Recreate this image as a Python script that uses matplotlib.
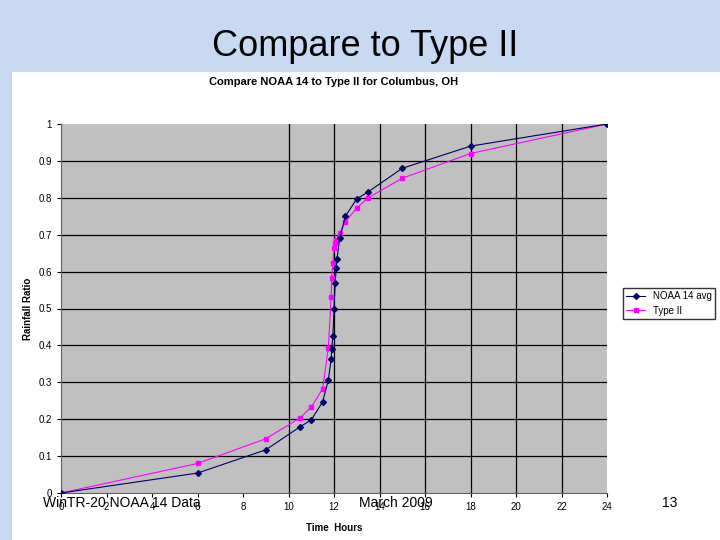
import matplotlib.pyplot as plt
import numpy as np

# NOAA 14 avg
noaa_t = [0, 6, 9, 10.5, 11, 11.5, 11.75, 11.875, 11.9, 11.95, 12.0, 12.05, 12.1, 12.13, 12.25, 12.5, 13, 13.5, 15, 18, 24]
noaa_r = [0, 0.054, 0.117, 0.179, 0.198, 0.247, 0.306, 0.363, 0.39, 0.425, 0.499, 0.57, 0.61, 0.634, 0.69, 0.75, 0.797, 0.816, 0.88, 0.94, 1.0]
# Type II
t2_t = [0, 6, 9, 10.5, 11, 11.5, 11.75, 11.875, 11.9, 11.95, 12.0, 12.05, 12.1, 12.25, 12.5, 13, 13.5, 15, 18, 24]
t2_r = [0, 0.08, 0.147, 0.203, 0.233, 0.282, 0.393, 0.531, 0.583, 0.624, 0.664, 0.678, 0.686, 0.705, 0.735, 0.772, 0.8, 0.853, 0.92, 1.0]

plt.rcParams['font.family'] = ['Liberation Sans', 'DejaVu Sans']

fig = plt.figure(figsize=(7.2, 5.4), dpi=100)
fig.patch.set_facecolor('#c9d9f2')
W, H = 720, 540

# white chart area
fig.patches.append(plt.Rectangle((12 / W, 0), 1 - 12 / W, 1 - 72 / H, transform=fig.transFigure,
                                 facecolor='white', edgecolor='none', zorder=-5))

ax = fig.add_axes([61 / W, 1 - 493 / H, (607 - 61) / W, (493 - 124) / H])
ax.set_zorder(2)
ax.set_facecolor('#c0c0c0')
ax.set_xlim(0, 24)
ax.set_ylim(0, 1)
ax.set_xticks(np.arange(0, 25, 2))
ax.set_yticks(np.round(np.arange(0, 1.01, 0.1), 1))
ax.set_yticklabels(['0'] + [f'{v:.1f}' for v in np.arange(0.1, 0.95, 0.1)] + ['1'])
ax.tick_params(labelsize=7, length=3)
for v in np.arange(0.1, 1.0, 0.1):
    ax.axhline(v, color='black', lw=0.9, zorder=1)
for v in range(10, 23, 2):
    ax.axvline(v, color='black', lw=0.9, zorder=1)
for s in ['top', 'right']:
    ax.spines[s].set_visible(False)
ax.spines['left'].set_color('#606060')
ax.spines['bottom'].set_color('#606060')

ax.plot(noaa_t, noaa_r, color='#000066', lw=0.8, marker='D', ms=3, label='NOAA 14 avg', zorder=3)
ax.plot(t2_t, t2_r, color='#ff00ff', lw=0.8, marker='s', ms=3.5, label='Type II', zorder=2)
ax.set_title('Compare NOAA 14 to Type II for Columbus, OH', fontsize=8, fontweight='bold', pad=28)
ax.set_ylabel('Rainfall Ratio', fontsize=7, fontweight='bold')
ax.set_xlabel('Time  Hours', fontsize=7, fontweight='bold', labelpad=8)

fig.legend(loc='upper left', bbox_to_anchor=(623 / W, 1 - 288 / H), fontsize=7, frameon=True,
           fancybox=False, edgecolor='black', handlelength=2, borderaxespad=0, borderpad=0.3)

fig.text(365 / W, 1 - 46 / H, 'Compare to Type II', fontsize=26, ha='center', va='center')
fig.text(43 / W, 1 - 503 / H, 'WinTR-20 NOAA 14 Data', fontsize=10, va='center', zorder=5)
fig.text(396 / W, 1 - 503 / H, 'March 2009', fontsize=10, va='center', ha='center', zorder=5)
fig.text(670 / W, 1 - 503 / H, '13', fontsize=10, va='center', ha='center', zorder=5)

fig.savefig('out.png', dpi=100, facecolor=fig.get_facecolor())
